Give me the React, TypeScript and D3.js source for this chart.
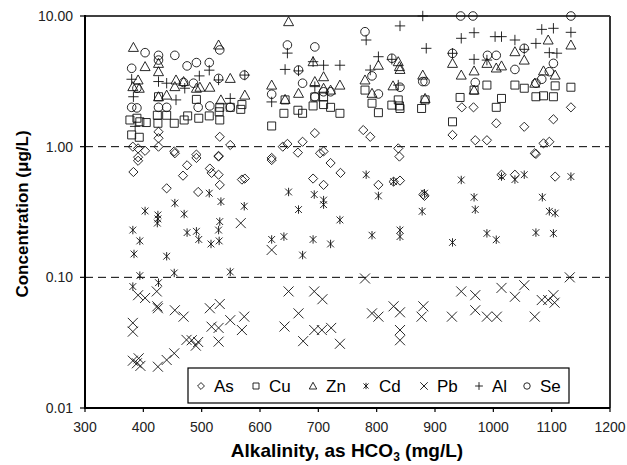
import * as d3 from 'd3';

type Pt = [number, number];

// alkalinity (mg/L HCO3) vs concentration (ug/L)
const asData: Pt[] = [
  [382, 1.0], [391, 0.97], [403, 0.93], [426, 1.3], [426, 1.16], [426, 1.0], [453, 0.92], [491, 0.87],
  [529, 0.85], [531, 1.19], [549, 1.03], [620, 0.82], [639, 1.0], [647, 1.05], [665, 0.9], [673, 1.09],
  [694, 1.27], [703, 0.89], [391, 0.83], [391, 0.78], [383, 0.64], [454, 0.89], [475, 0.72], [491, 0.82],
  [468, 0.6], [514, 0.68], [517, 0.63], [529, 0.84], [529, 0.61], [531, 0.51], [440, 0.48], [494, 0.45],
  [569, 0.56], [574, 0.57], [620, 0.79], [691, 0.57], [709, 0.92], [777, 1.34], [789, 1.19], [837, 0.97],
  [839, 0.84], [930, 1.23], [946, 2.0], [966, 2.0], [969, 1.12], [989, 1.12], [1005, 1.51], [1053, 1.42],
  [1103, 1.62], [1133, 2.0], [1071, 0.89], [1086, 1.06], [1096, 1.09], [721, 0.75], [738, 0.63], [709, 0.51],
  [803, 0.51], [829, 0.54], [840, 0.55], [880, 0.43], [882, 0.42], [1014, 0.61], [1037, 0.61], [1106, 0.59],
  [1073, 0.88],
];

const cuData: Pt[] = [
  [380, 1.23], [393, 1.18], [377, 1.6], [389, 1.65], [394, 1.55], [405, 1.53], [425, 1.51], [424, 1.74],
  [426, 2.41], [440, 1.74], [453, 1.51], [470, 1.6], [491, 2.3], [476, 1.72], [495, 1.65], [513, 1.72],
  [531, 1.6], [530, 1.85], [549, 2.0], [567, 1.93], [569, 2.1], [531, 2.0], [620, 1.44], [641, 1.8],
  [643, 2.28], [665, 1.9], [673, 1.8], [691, 2.05], [694, 2.4], [709, 2.1], [709, 2.4], [721, 2.0],
  [737, 1.8], [780, 2.71], [792, 2.15], [803, 1.82], [826, 2.08], [837, 2.28], [840, 1.96], [839, 2.05],
  [877, 1.96], [883, 2.28], [930, 1.55], [943, 2.38], [967, 2.71], [989, 2.96], [1005, 2.0], [1014, 2.34],
  [1037, 2.96], [1053, 2.8], [1073, 2.41], [1086, 2.45], [1103, 2.41], [1106, 2.92], [1133, 2.85],
];

const znData: Pt[] = [
  [383, 5.75], [403, 4.1], [382, 2.88], [391, 3.24], [393, 2.8], [426, 4.34], [426, 3.75], [426, 2.41],
  [440, 2.48], [454, 2.88], [456, 3.24], [469, 3.15], [491, 2.8], [514, 2.85], [497, 2.85], [529, 6.0],
  [533, 2.28], [549, 3.33], [574, 2.48], [620, 2.96], [649, 9.05], [643, 2.3], [666, 2.56], [691, 4.47],
  [694, 3.15], [709, 3.43], [709, 2.8], [721, 2.71], [737, 2.96], [780, 3.24], [803, 4.2], [792, 2.56],
  [828, 2.92], [837, 4.47], [839, 4.1], [840, 3.9], [879, 3.53], [883, 2.34], [930, 4.34], [945, 3.53],
  [967, 3.8], [989, 4.34], [1005, 4.0], [1014, 4.15], [967, 2.71], [1037, 5.33], [1053, 4.6], [1094, 6.55],
  [1133, 6.0], [1071, 3.06], [1086, 3.8], [1106, 3.53],
];

const cdData: Pt[] = [
  [403, 0.322], [425, 0.3], [425, 0.28], [424, 0.26], [454, 0.37], [470, 0.305], [513, 0.44], [533, 0.38],
  [573, 0.35], [531, 0.267], [382, 0.23], [394, 0.19], [384, 0.151], [440, 0.145], [475, 0.22], [491, 0.225],
  [495, 0.195], [516, 0.18], [530, 0.19], [529, 0.23], [453, 0.108], [549, 0.11], [394, 0.103], [382, 0.085],
  [426, 0.091], [649, 0.45], [693, 0.43], [666, 0.33], [620, 0.195], [641, 0.205], [673, 0.148], [691, 0.195],
  [709, 0.39], [709, 0.36], [782, 0.61], [803, 0.42], [829, 0.54], [882, 0.44], [878, 0.32], [737, 0.275],
  [721, 0.18], [792, 0.21], [840, 0.23], [840, 0.205], [945, 0.556], [967, 0.41], [969, 0.33], [930, 0.185],
  [989, 0.217], [1005, 0.194], [1014, 0.59], [1037, 0.56], [1053, 0.61], [1084, 0.41], [1096, 0.32],
  [1106, 0.31], [1073, 0.22], [1103, 0.217], [1133, 0.59],
];

const pbData: Pt[] = [
  [382, 0.0448], [382, 0.0384], [382, 0.023], [389, 0.022], [395, 0.021], [392, 0.024], [425, 0.0207],
  [440, 0.0233], [453, 0.0262], [474, 0.0332], [483, 0.033], [490, 0.03], [494, 0.032], [517, 0.0419],
  [529, 0.041], [529, 0.0322], [549, 0.047], [569, 0.0395], [573, 0.05], [514, 0.058], [531, 0.0625],
  [454, 0.056], [469, 0.05], [425, 0.058], [424, 0.06], [403, 0.0695], [391, 0.073], [423, 0.078],
  [642, 0.042], [649, 0.078], [666, 0.053], [674, 0.0325], [693, 0.078], [707, 0.068], [693, 0.0395],
  [706, 0.0395], [722, 0.041], [737, 0.031], [620, 0.162], [567, 0.26], [780, 0.098], [792, 0.053],
  [803, 0.05], [829, 0.06], [840, 0.054], [840, 0.0395], [840, 0.033], [880, 0.06], [877, 0.05], [929, 0.05],
  [945, 0.078], [969, 0.073], [969, 0.056], [989, 0.05], [1006, 0.05], [1014, 0.083], [1037, 0.071],
  [1053, 0.087], [1071, 0.05], [1083, 0.067], [1094, 0.067], [1103, 0.073], [1105, 0.064], [1131, 0.1],
];

const alData: Pt[] = [
  [380, 3.28], [383, 2.41], [386, 1.43], [426, 3.15], [440, 3.06], [456, 2.28], [471, 2.8], [496, 3.48],
  [513, 3.85], [529, 3.24], [549, 2.34], [574, 3.53], [620, 2.2], [643, 3.9], [647, 5.2], [666, 3.8],
  [691, 4.47], [709, 4.2], [737, 4.2], [694, 2.88], [782, 6.55], [840, 8.4], [879, 10], [885, 5.66],
  [803, 4.88], [789, 3.86], [826, 4.66], [837, 2.96], [930, 5.18], [945, 6.75], [967, 7.45], [967, 4.66],
  [1003, 6.95], [1014, 6.95], [1037, 6.55], [1053, 5.56], [1073, 6.17], [1083, 7.9], [1103, 8.05],
  [1133, 7.5], [1096, 5.24], [1109, 5.19], [989, 4.6],
];

const seData: Pt[] = [
  [380, 3.98], [403, 5.24], [426, 5.0], [426, 4.6], [454, 5.0], [475, 4.15], [491, 4.4], [513, 4.4],
  [531, 5.5], [469, 3.1], [486, 3.06], [529, 3.33], [573, 3.53], [380, 2.0], [389, 1.98], [426, 2.0],
  [440, 2.0], [494, 2.0], [514, 2.05], [549, 2.0], [389, 2.8], [620, 2.52], [647, 6.0], [666, 3.86],
  [673, 3.06], [694, 5.8], [694, 2.41], [709, 2.63], [721, 2.63], [780, 7.58], [792, 3.48], [803, 2.53],
  [826, 4.75], [840, 2.85], [879, 3.15], [883, 3.15], [930, 5.18], [944, 10], [965, 10], [969, 3.1],
  [990, 5.0], [1005, 5.0], [1037, 3.9], [1053, 5.66], [1073, 3.06], [1103, 4.34], [1096, 3.75],
  [1083, 3.28], [1133, 10],
];

const seriesNames = ['As', 'Cu', 'Zn', 'Cd', 'Pb', 'Al', 'Se'];
const seriesData = [asData, cuData, znData, cdData, pbData, alData, seData];
const xTicks = [300, 400, 500, 600, 700, 800, 900, 1000, 1100, 1200];
const yTicks = [0.01, 0.1, 1, 10];
const gridValues = [0.1, 1];

const width = 627;
const height = 465;
const margin = { top: 16, right: 17, bottom: 57, left: 85 };
const font = 'Arial, "Liberation Sans", Helvetica, sans-serif';

// marker outline for each element, centred on 0,0, s = scale
function marker(name: string, s: number): string {
  switch (name) {
    case 'As': {
      const r = 4.6 * s;
      return `M0,${-r}L${r},0L0,${r}L${-r},0Z`;
    }
    case 'Cu': {
      const r = 4 * s;
      return `M${-r},${-r}H${r}V${r}H${-r}Z`;
    }
    case 'Zn': {
      const w = 5 * s;
      const h = 4.5 * s;
      return `M0,${-h - 0.5 * s}L${w},${h - 0.5 * s}L${-w},${h - 0.5 * s}Z`;
    }
    case 'Cd': {
      const r = 3.4 * s;
      const v = 4.2 * s;
      return `M${-r},${-r}L${r},${r}M${-r},${r}L${r},${-r}M0,${-v}V${v}`;
    }
    case 'Pb': {
      const r = 5 * s;
      return `M${-r},${-r}L${r},${r}M${-r},${r}L${r},${-r}`;
    }
    case 'Al': {
      const r = 5.2 * s;
      return `M${-r},0H${r}M0,${-r}V${r}`;
    }
    default: {
      const r = 4.3 * s;
      return d3.arc()({ innerRadius: 0, outerRadius: r, startAngle: 0, endAngle: 2 * Math.PI }) as string;
    }
  }
}

export default function App() {
  const x = d3.scaleLinear().domain([300, 1200]).range([margin.left, width - margin.right]);
  const y = d3.scaleLog().domain([0.01, 10]).range([height - margin.bottom, margin.top]);
  const x0 = margin.left;
  const x1 = width - margin.right;
  const y0 = height - margin.bottom;
  const y1 = margin.top;

  const legendX = 188;
  const legendY = 368;
  const legendOffsets = [13, 68, 125, 178, 236, 291, 339];

  return (
    <svg width={width} height={height} style={{ position: 'absolute', left: 0, top: 0, background: '#fff' }}>
      <rect x={0} y={0} width={width} height={height} fill="#fff" />

      {gridValues.map(v => (
        <line key={v} x1={x0} x2={x1} y1={y(v)} y2={y(v)} stroke="#000" strokeWidth={1} strokeDasharray="8,5" />
      ))}

      {/* frame */}
      <line x1={x0} x2={x1} y1={y1} y2={y1} stroke="#000" strokeWidth={1.5} />
      <line x1={x1} x2={x1} y1={y1} y2={y0} stroke="#333" strokeWidth={2} />
      <line x1={x0} x2={x0} y1={y1 - 1} y2={y0 + 1} stroke="#000" strokeWidth={2} />
      <line x1={x0 - 1} x2={x1} y1={y0} y2={y0} stroke="#000" strokeWidth={2} />

      {yTicks.map(t => (
        <g key={t}>
          <line x1={x0 - 5} x2={x0} y1={y(t)} y2={y(t)} stroke="#000" strokeWidth={1.2} />
          <text x={x0 - 12} y={y(t)} dy="0.35em" textAnchor="end" fontFamily={font} fontSize={14} fill="#222">
            {d3.format('.2f')(t)}
          </text>
        </g>
      ))}
      {xTicks.map(t => (
        <g key={t}>
          <line x1={x(t)} x2={x(t)} y1={y0} y2={y0 + 4} stroke="#000" strokeWidth={1.2} />
          <text x={x(t)} y={y0 + 24} textAnchor="middle" fontFamily={font} fontSize={14} fill="#222">
            {t}
          </text>
        </g>
      ))}

      {seriesData.map((data, i) => (
        <g key={seriesNames[i]} fill="none" stroke="#111" strokeWidth={0.9}>
          {data.map((d, j) => (
            <path key={j} d={marker(seriesNames[i], 1)} transform={`translate(${x(d[0])},${y(d[1])})`} />
          ))}
        </g>
      ))}

      {/* legend */}
      <rect x={legendX} y={legendY} width={381} height={35} fill="#fff" stroke="#000" strokeWidth={1.2} />
      {seriesNames.map((name, i) => (
        <g key={name} transform={`translate(${legendX + legendOffsets[i]},${legendY + 18})`}>
          <path d={marker(name, 0.75)} fill="none" stroke="#111" strokeWidth={0.9} />
          <text x={13} y={0} dy="0.36em" fontFamily={font} fontSize={17} fill="#000">
            {name}
          </text>
        </g>
      ))}

      <text x={347} y={457} textAnchor="middle" fontFamily={font} fontSize={19} fontWeight="bold" fill="#000">
        Alkalinity, as HCO<tspan dy={4} fontSize={12}>3</tspan>
        <tspan dy={-4}> (mg/L)</tspan>
      </text>
      <text
        transform="translate(28,214) rotate(-90)"
        textAnchor="middle"
        fontFamily={font}
        fontSize={17}
        fontWeight="bold"
        fill="#000"
      >
        Concentration (μg/L)
      </text>
    </svg>
  );
}
